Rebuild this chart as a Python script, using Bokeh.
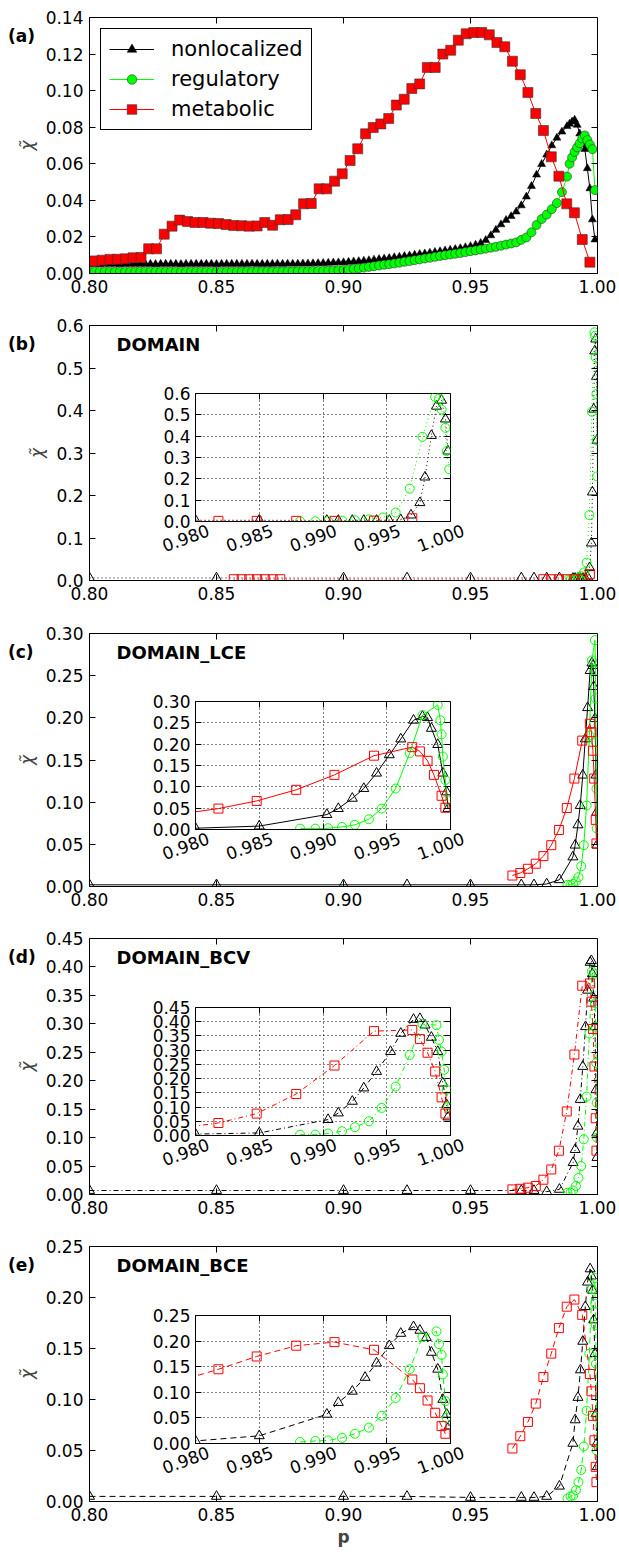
import numpy as np
from bokeh.plotting import figure
from bokeh.models import (LinearAxis, FixedTicker, PrintfTickFormatter, Label, Range1d,
                          Legend, LegendItem, Div, CustomJSTickFormatter)
from bokeh.layouts import column
from bokeh.embed import file_html
from bokeh.resources import INLINE

FONT = "DejaVu Sans"
RED = "#ff0000"
GREEN = "#00ff00"
CHI = "\u03c7\u0303"

# ---------------- data: panel (a) ----------------
a_dense_x = [
    0.800, 0.802, 0.804, 0.806, 0.808, 0.810, 0.812, 0.814, 0.816, 0.818,
    0.820, 0.822, 0.824, 0.826, 0.828, 0.830, 0.832, 0.834, 0.836, 0.838,
    0.840, 0.842, 0.844, 0.846, 0.848, 0.850, 0.852, 0.854, 0.856, 0.858,
    0.860, 0.862, 0.864, 0.866, 0.868, 0.870, 0.872, 0.874, 0.876, 0.878,
    0.880, 0.882, 0.884, 0.886, 0.888, 0.890, 0.892, 0.894, 0.896, 0.898,
    0.900, 0.902, 0.904, 0.906, 0.908, 0.910, 0.912, 0.914, 0.916, 0.918,
    0.920, 0.922, 0.924, 0.926, 0.928, 0.930, 0.932, 0.934, 0.936, 0.938,
    0.940, 0.942, 0.944, 0.946, 0.948, 0.950, 0.952, 0.954, 0.956, 0.958,
    0.960, 0.962, 0.964, 0.966, 0.968, 0.970, 0.972, 0.974, 0.976, 0.978,
    0.980, 0.982, 0.984, 0.986, 0.988,
    0.989, 0.990, 0.991, 0.992, 0.993, 0.994, 0.995, 0.996, 0.997, 0.998, 0.999]
a_nonlocalized = [
    0.0052, 0.0052, 0.0051, 0.0052, 0.0052, 0.0052, 0.0051, 0.0052, 0.0052, 0.0052,
    0.0052, 0.0052, 0.0052, 0.0051, 0.0052, 0.0052, 0.0052, 0.0052, 0.0051, 0.0052,
    0.0052, 0.0052, 0.0052, 0.0052, 0.0052, 0.0051, 0.0052, 0.0052, 0.0052, 0.0052,
    0.0052, 0.0052, 0.0053, 0.0052, 0.0052, 0.0052, 0.0052, 0.0053, 0.0052, 0.0053,
    0.0053, 0.0053, 0.0054, 0.0054, 0.0055, 0.0056, 0.0057, 0.0058, 0.0059, 0.0060,
    0.0061, 0.0063, 0.0065, 0.0067, 0.0069, 0.0072, 0.0075, 0.0078, 0.0081, 0.0084,
    0.0088, 0.0091, 0.0095, 0.0098, 0.0102, 0.0106, 0.0109, 0.0113, 0.0117, 0.0121,
    0.0125, 0.0129, 0.0133, 0.0138, 0.0143, 0.0149, 0.0156, 0.0166, 0.0182, 0.0208,
    0.0238, 0.0268, 0.0292, 0.0313, 0.0338, 0.0372, 0.0420, 0.0478, 0.0540, 0.0598,
    0.0650, 0.0700, 0.0742, 0.0775, 0.0805,
    0.0818, 0.0830, 0.0840, 0.0812, 0.0765, 0.0712, 0.0680, 0.0575, 0.0465, 0.0295, 0.0185]
a_regulatory = [
    0.0010, 0.0010, 0.0010, 0.0010, 0.0010, 0.0010, 0.0010, 0.0010, 0.0010, 0.0010,
    0.0010, 0.0010, 0.0010, 0.0010, 0.0010, 0.0010, 0.0010, 0.0010, 0.0010, 0.0010,
    0.0010, 0.0010, 0.0010, 0.0010, 0.0010, 0.0010, 0.0010, 0.0010, 0.0010, 0.0010,
    0.0011, 0.0011, 0.0011, 0.0011, 0.0011, 0.0011, 0.0011, 0.0011, 0.0011, 0.0011,
    0.0012, 0.0012, 0.0013, 0.0013, 0.0014, 0.0014, 0.0015, 0.0016, 0.0017, 0.0018,
    0.0019, 0.0022, 0.0025, 0.0028, 0.0032, 0.0036, 0.0040, 0.0044, 0.0048, 0.0051,
    0.0055, 0.0059, 0.0064, 0.0068, 0.0073, 0.0077, 0.0082, 0.0086, 0.0091, 0.0096,
    0.0100, 0.0104, 0.0108, 0.0112, 0.0117, 0.0122, 0.0126, 0.0131, 0.0136, 0.0141,
    0.0146, 0.0152, 0.0158, 0.0164, 0.0170, 0.0184, 0.0197, 0.0225, 0.0265, 0.0298,
    0.0322, 0.0352, 0.0385, 0.0445, 0.0530,
    0.0600, 0.0635, 0.0665, 0.0690, 0.0712, 0.0738, 0.0755, 0.0730, 0.0705, 0.0680, 0.0456]
a_metabolic_x = [
    0.8020, 0.8050, 0.8081, 0.8111, 0.8142, 0.8172, 0.8203, 0.8233, 0.8264, 0.8294,
    0.8325, 0.8355, 0.8386, 0.8416, 0.8447, 0.8477, 0.8508, 0.8538, 0.8568, 0.8599,
    0.8629, 0.8660, 0.8690, 0.8721, 0.8751, 0.8782, 0.8812, 0.8843, 0.8873, 0.8904,
    0.8934, 0.8965, 0.8995, 0.9026, 0.9056, 0.9087, 0.9117, 0.9147, 0.9178, 0.9208,
    0.9239, 0.9269, 0.9300, 0.9330, 0.9361, 0.9391, 0.9422, 0.9452, 0.9483, 0.9513,
    0.9544, 0.9574, 0.9604, 0.9635, 0.9665, 0.9696, 0.9726, 0.9757, 0.9787, 0.9818,
    0.9848, 0.9879, 0.9909, 0.9940, 0.9970]
a_metabolic = [
    0.0069, 0.0073, 0.0077, 0.0078, 0.0080, 0.0086, 0.0087, 0.0135, 0.0135, 0.0215,
    0.0259, 0.0292, 0.0284, 0.0279, 0.0279, 0.0275, 0.0273, 0.0268, 0.0262, 0.0261,
    0.0259, 0.0260, 0.0279, 0.0264, 0.0294, 0.0295, 0.0321, 0.0381, 0.0383, 0.0463,
    0.0463, 0.0505, 0.0545, 0.0618, 0.0682, 0.0764, 0.0798, 0.0818, 0.0848, 0.0921,
    0.0953, 0.1012, 0.1037, 0.1127, 0.1127, 0.1200, 0.1221, 0.1276, 0.1311, 0.1318,
    0.1318, 0.1305, 0.1263, 0.1240, 0.1161, 0.1087, 0.0990, 0.0875, 0.0782, 0.0638,
    0.0532, 0.0381, 0.0332, 0.0186, 0.0062]

# ---------------- data: panels (b)-(e) ----------------
b_nonloc_x = [0.800, 0.850, 0.900, 0.925, 0.950, 0.970, 0.975, 0.980, 0.985, 0.9903, 0.9912, 0.9923,
              0.9932, 0.9942, 0.9952, 0.9961, 0.9969, 0.9976, 0.9980, 0.9985, 0.9989, 0.9993, 0.9996, 0.9998]
b_nonloc = [0.006, 0.006, 0.006, 0.006, 0.006, 0.006, 0.006, 0.006, 0.006, 0.005, 0.005, 0.005,
            0.005, 0.005, 0.005, 0.008, 0.030, 0.088, 0.208, 0.403, 0.540, 0.568, 0.480, 0.330]
b_metab_x = [0.8568, 0.8599, 0.8629, 0.8660, 0.8690, 0.8721, 0.8751, 0.9787, 0.9818, 0.9848,
             0.9879, 0.9909, 0.9940, 0.9970]
b_metab = [0.003, 0.003, 0.003, 0.003, 0.003, 0.003, 0.003, 0.003, 0.003, 0.003,
           0.003, 0.003, 0.004, 0.015]
b_reg_x = [0.9882, 0.9894, 0.9904, 0.9915, 0.9925, 0.9936, 0.9947, 0.9957, 0.9968, 0.9978,
           0.9988, 0.9991, 0.9993, 0.9996, 0.9997, 0.9999]
b_reg = [0.001, 0.001, 0.002, 0.004, 0.006, 0.010, 0.019, 0.042, 0.154, 0.397,
         0.584, 0.576, 0.525, 0.439, 0.330, 0.245]

c_nonloc_x = [0.800, 0.850, 0.900, 0.925, 0.950, 0.970, 0.975, 0.980, 0.985, 0.9903, 0.9912, 0.9923,
              0.9932, 0.9942, 0.9952, 0.9961, 0.9971, 0.9978, 0.9982, 0.9985, 0.9990, 0.9994, 0.9997, 0.9998]
c_nonloc = [0.002, 0.002, 0.002, 0.002, 0.002, 0.002, 0.002, 0.003, 0.008, 0.035, 0.049, 0.073,
            0.096, 0.132, 0.175, 0.212, 0.256, 0.265, 0.262, 0.237, 0.199, 0.132, 0.088, 0.049]
c_metab_x = [0.9665, 0.9696, 0.9726, 0.9757, 0.9787, 0.9818, 0.9848, 0.9879, 0.9909, 0.9940,
             0.9970, 0.9976, 0.9982, 0.9987, 0.9993, 0.9996]
c_metab = [0.013, 0.016, 0.021, 0.027, 0.036, 0.049, 0.067, 0.093, 0.128, 0.173,
           0.193, 0.183, 0.161, 0.128, 0.079, 0.051]
c_reg_x = [0.9882, 0.9894, 0.9904, 0.9915, 0.9925, 0.9936, 0.9946, 0.9957, 0.9968, 0.9978,
           0.9990, 0.9992, 0.9993, 0.9994, 0.9996, 0.9997]
c_reg = [0.002, 0.002, 0.003, 0.006, 0.011, 0.024, 0.049, 0.096, 0.179, 0.268,
         0.292, 0.256, 0.223, 0.171, 0.116, 0.069]

d_nonloc_x = [0.800, 0.850, 0.900, 0.925, 0.950, 0.970, 0.975, 0.980, 0.985, 0.9904, 0.9912, 0.9923,
              0.9932, 0.9942, 0.9953, 0.9961, 0.9971, 0.9976, 0.9980, 0.9985, 0.9990, 0.9994, 0.9997, 0.9998]
d_nonloc = [0.007, 0.007, 0.007, 0.007, 0.007, 0.007, 0.007, 0.005, 0.009, 0.056, 0.079, 0.120,
            0.167, 0.225, 0.295, 0.359, 0.408, 0.411, 0.388, 0.345, 0.295, 0.184, 0.108, 0.065]
d_metab_x = [0.9665, 0.9696, 0.9726, 0.9757, 0.9787, 0.9818, 0.9848, 0.9879, 0.9909, 0.9940,
             0.9970, 0.9976, 0.9982, 0.9988, 0.9993, 0.9996]
d_metab = [0.009, 0.010, 0.012, 0.015, 0.026, 0.044, 0.077, 0.146, 0.246, 0.367,
           0.371, 0.339, 0.291, 0.225, 0.134, 0.077]
d_reg_x = [0.9882, 0.9894, 0.9904, 0.9915, 0.9925, 0.9936, 0.9946, 0.9957, 0.9968, 0.9978,
           0.9989, 0.9991, 0.9993, 0.9995, 0.9997, 0.9998]
d_reg = [0.003, 0.003, 0.007, 0.015, 0.029, 0.050, 0.097, 0.172, 0.283, 0.392,
         0.388, 0.336, 0.295, 0.231, 0.161, 0.100]

e_nonloc_x = [0.800, 0.850, 0.900, 0.925, 0.950, 0.970, 0.975, 0.980, 0.985, 0.9903, 0.9912, 0.9923,
              0.9933, 0.9942, 0.9952, 0.9961, 0.9971, 0.9976, 0.9981, 0.9985, 0.9990, 0.9994, 0.9997, 0.9999]
e_nonloc = [0.005, 0.005, 0.005, 0.005, 0.004, 0.004, 0.004, 0.005, 0.015, 0.057, 0.080, 0.102,
            0.129, 0.157, 0.191, 0.215, 0.228, 0.221, 0.207, 0.178, 0.145, 0.086, 0.057, 0.034]
e_metab_x = [0.9665, 0.9696, 0.9726, 0.9757, 0.9787, 0.9818, 0.9848, 0.9879, 0.9909, 0.9940,
             0.9970, 0.9976, 0.9982, 0.9988, 0.9993, 0.9996]
e_metab = [0.052, 0.064, 0.078, 0.096, 0.122, 0.145, 0.170, 0.191, 0.198, 0.183,
           0.125, 0.108, 0.084, 0.060, 0.034, 0.019]
e_reg_x = [0.9882, 0.9894, 0.9904, 0.9915, 0.9925, 0.9936, 0.9946, 0.9957, 0.9968, 0.9978,
           0.9989, 0.9991, 0.9993, 0.9994, 0.9996, 0.9997]
e_reg = [0.003, 0.005, 0.006, 0.011, 0.019, 0.031, 0.054, 0.089, 0.145, 0.208,
         0.219, 0.194, 0.173, 0.135, 0.083, 0.050]

# ---------------- ticks / labels ----------------
main_xticks = [0.80, 0.85, 0.90, 0.95, 1.00]
inset_xticks = [0.980, 0.985, 0.990, 0.995, 1.000]
a_yticks = [0.00, 0.02, 0.04, 0.06, 0.08, 0.10, 0.12, 0.14]
b_yticks = [0.0, 0.1, 0.2, 0.3, 0.4, 0.5, 0.6]
c_yticks = [0.00, 0.05, 0.10, 0.15, 0.20, 0.25, 0.30]
d_yticks = [0.00, 0.05, 0.10, 0.15, 0.20, 0.25, 0.30, 0.35, 0.40, 0.45]
e_yticks = [0.00, 0.05, 0.10, 0.15, 0.20, 0.25]

panel_tags = ["(a)", "(b)", "(c)", "(d)", "(e)"]
panel_names = [None, "DOMAIN", "DOMAIN_LCE", "DOMAIN_BCV", "DOMAIN_BCE"]
series_names = ["nonlocalized", "regulatory", "metabolic"]

MAIN_LEFT, MAIN_RIGHT, MAIN_TOP, MAIN_FRAME_W = 89, 22, 17, 508


def style_axis(ax, fs="17px"):
    ax.major_label_text_font = FONT
    ax.major_label_text_font_size = fs
    ax.major_label_text_color = "black"
    ax.major_tick_in = 6
    ax.major_tick_out = 0
    ax.minor_tick_line_color = None
    ax.axis_line_color = "black"
    ax.major_tick_line_color = "black"
    ax.major_label_standoff = 7


def hide_labels(ax):
    ax.formatter = CustomJSTickFormatter(code="return ''")
    ax.major_label_text_color = None
    ax.major_label_text_font_size = "1px"
    ax.major_label_standoff = 0


def mirror_axes(p, xticks, yticks, xend, yend):
    # tick marks only on the top and right frame edges
    for side, ticks, loc in (("below", xticks, yend), ("left", yticks, xend)):
        ax = LinearAxis(ticker=FixedTicker(ticks=ticks), fixed_location=loc)
        hide_labels(ax)
        ax.major_tick_in = 0
        ax.major_tick_out = 6
        ax.minor_tick_line_color = None
        ax.axis_line_color = None
        ax.major_tick_line_color = "black"
        p.add_layout(ax, side)


def make_main(height, frame_h, ymax, yticks, yfmt, name, xlabel=None):
    bottom = height - MAIN_TOP - frame_h
    p = figure(frame_width=MAIN_FRAME_W, frame_height=frame_h,
               x_range=Range1d(0.8, 1.0), y_range=Range1d(0, ymax),
               output_backend="svg", toolbar_location=None,
               min_border_left=MAIN_LEFT, min_border_right=MAIN_RIGHT,
               min_border_top=MAIN_TOP, min_border_bottom=bottom)
    p.xgrid.visible = False
    p.ygrid.visible = False
    p.outline_line_color = "black"
    p.outline_line_width = 1
    p.outline_line_alpha = 1
    xa = p.below[0]
    ya = p.left[0]
    xa.ticker = FixedTicker(ticks=main_xticks)
    xa.formatter = PrintfTickFormatter(format="%.2f")
    ya.ticker = FixedTicker(ticks=yticks)
    ya.formatter = PrintfTickFormatter(format=yfmt)
    style_axis(xa)
    style_axis(ya)
    xa.major_label_standoff = 6
    ya.major_label_standoff = 6
    ya.axis_label = CHI
    ya.axis_label_text_font = FONT
    ya.axis_label_text_font_size = "17px"
    ya.axis_label_text_font_style = "italic"
    ya.axis_label_standoff = 6
    if xlabel:
        xa.axis_label = xlabel
        xa.axis_label_text_font = FONT
        xa.axis_label_text_font_size = "17px"
        xa.axis_label_text_font_style = "bold"
        xa.axis_label_standoff = 3
    mirror_axes(p, main_xticks, yticks, 1.0, ymax)
    if name:
        p.add_layout(Label(x=27, y=frame_h - 19, x_units="screen", y_units="screen", text=name,
                           text_font=FONT, text_font_size="18px", text_font_style="bold",
                           text_baseline="middle", text_color="black"))
    return p


INSET_LEFT_PAGE = 190          # page x of the inset frame's left edge
LAYOUT_DRIFT = 24              # extra left offset Bokeh adds to these overlay figures
INSET_TOP, INSET_FRAME_W, INSET_FRAME_H, INSET_BOTTOM = 12, 255, 128, 45
INSET_BL, INSET_BR = 60, 40
INSET_H = INSET_TOP + INSET_FRAME_H + INSET_BOTTOM
LAB_SHIFT = 23                 # rotated tick labels are centred on their ticks
LAB_BL, LAB_BR, LAB_FRAME_H, LAB_BOTTOM = 70, 45, 10, 50
LAB_H = LAB_FRAME_H + LAB_BOTTOM


def make_inset(ymax, yticks, yfmt):
    q = figure(frame_width=INSET_FRAME_W, frame_height=INSET_FRAME_H,
               x_range=Range1d(0.98, 1.0), y_range=Range1d(0, ymax),
               output_backend="svg", toolbar_location=None,
               min_border_left=INSET_BL, min_border_right=INSET_BR, min_border_top=INSET_TOP,
               min_border_bottom=INSET_BOTTOM,
               border_fill_color=None, background_fill_color="white")
    q.outline_line_color = "black"
    q.outline_line_width = 1
    q.outline_line_alpha = 1
    xa = q.below[0]
    ya = q.left[0]
    xa.ticker = FixedTicker(ticks=inset_xticks)
    ya.ticker = FixedTicker(ticks=yticks)
    ya.formatter = PrintfTickFormatter(format=yfmt)
    style_axis(xa)
    style_axis(ya)
    hide_labels(xa)
    ya.major_label_standoff = 5
    for g in (q.xgrid[0], q.ygrid[0]):
        g.grid_line_color = "black"
        g.grid_line_dash = "1 3"
        g.grid_line_width = 1
        g.grid_line_alpha = 1
    q.xgrid.ticker = FixedTicker(ticks=inset_xticks)
    q.ygrid.ticker = FixedTicker(ticks=yticks)
    mirror_axes(q, inset_xticks, yticks, 1.0, ymax)
    return q


def make_inset_labels():
    # transparent overlay carrying the inset's rotated x tick labels
    L = figure(frame_width=INSET_FRAME_W, frame_height=LAB_FRAME_H,
               x_range=Range1d(0.98, 1.0), y_range=Range1d(0, 1),
               output_backend="svg", toolbar_location=None, y_axis_location=None,
               min_border_left=LAB_BL, min_border_right=LAB_BR, min_border_top=0,
               min_border_bottom=LAB_BOTTOM,
               border_fill_color=None, background_fill_color=None)
    L.outline_line_color = None
    L.xgrid.visible = False
    L.ygrid.visible = False
    xa = L.below[0]
    xa.ticker = FixedTicker(ticks=inset_xticks)
    xa.formatter = PrintfTickFormatter(format="%.3f")
    style_axis(xa)
    xa.major_tick_line_color = None
    xa.axis_line_color = None
    xa.major_label_orientation = 0.35
    xa.major_label_standoff = 8
    return L


def tag_div(text, top_page, flow_end):
    # bold panel tag positioned over the left margin of its panel
    h = 24
    mt = top_page - flow_end
    return Div(text=('<span style="font-family: \'DejaVu Sans\'; font-size: 17px; '
                     'font-weight: bold; color: black; line-height: 24px; white-space: nowrap;">'
                     + text + '</span>'),
               width=40, height=h, margin=(mt, 0, -h - mt, 8))


def draw_series(p, xs, ys, color, marker, size, dash):
    p.line(xs, ys, line_color=color, line_width=1, line_dash=dash)
    p.scatter(xs, ys, marker=marker, size=size, fill_color=None, line_color=color, line_width=1)


# ---------------- panel (a) ----------------
pa = make_main(308, 256, 0.14, a_yticks, "%.2f", None)
lb = pa.line(a_dense_x, a_nonlocalized, line_color="black", line_width=1)
sb = pa.scatter(a_dense_x, a_nonlocalized, marker="triangle", size=8, fill_color="black",
                line_color="black", line_width=0.5)
lg = pa.line(a_dense_x, a_regulatory, line_color=GREEN, line_width=1)
sg = pa.scatter(a_dense_x, a_regulatory, marker="circle", size=9, fill_color=GREEN,
                line_color="#333333", line_width=0.6)
lr = pa.line(a_metabolic_x, a_metabolic, line_color=RED, line_width=1)
sr = pa.scatter(a_metabolic_x, a_metabolic, marker="square", size=10, fill_color=RED,
                line_color="#333333", line_width=0.6)
legend = Legend(items=[LegendItem(label=series_names[0], renderers=[lb, sb]),
                       LegendItem(label=series_names[1], renderers=[lg, sg]),
                       LegendItem(label=series_names[2], renderers=[lr, sr])],
                location="top_left")
legend.margin = 11
legend.padding = 8
legend.spacing = 6
legend.label_text_font = FONT
legend.label_text_font_size = "21px"
legend.label_text_color = "black"
legend.label_height = 24
legend.glyph_height = 24
legend.glyph_width = 45
legend.label_standoff = 17
legend.border_line_color = "black"
legend.border_line_width = 1
legend.border_line_alpha = 1
legend.background_fill_alpha = 1
pa.add_layout(legend)

children = [pa, tag_div(panel_tags[0], 0 + MAIN_TOP + 7, 308)]

# ---------------- panels (b)-(e) ----------------
specs = [
    (308, 255, 0.6, b_yticks, "%.1f", "%.1f", "1 3", 85,
     (b_nonloc_x, b_nonloc), (b_reg_x, b_reg), (b_metab_x, b_metab)),
    (305, 253, 0.3, c_yticks, "%.2f", "%.2f", "solid", 85,
     (c_nonloc_x, c_nonloc), (c_reg_x, c_reg), (c_metab_x, c_metab)),
    (308, 256, 0.45, d_yticks, "%.2f", "%.2f", "5 3 1 3", 86,
     (d_nonloc_x, d_nonloc), (d_reg_x, d_reg), (d_metab_x, d_metab)),
    (323, 255, 0.25, e_yticks, "%.2f", "%.2f", "6 4", 86,
     (e_nonloc_x, e_nonloc), (e_reg_x, e_reg), (e_metab_x, e_metab)),
]

start = 308
for i, (h, fh, ymax, yt, fm, fi, dash, off, nl, rg, mt) in enumerate(specs):
    p = make_main(h, fh, ymax, yt, fm, panel_names[i + 1], xlabel="p" if i == 3 else None)
    q = make_inset(ymax, yt, fi)
    for fig in (p, q):
        draw_series(fig, nl[0], nl[1], "black", "triangle", 10, dash)
        draw_series(fig, rg[0], rg[1], GREEN, "circle", 9, dash)
        draw_series(fig, mt[0], mt[1], RED, "square", 9, dash)
    end = start + h
    frame_top = start + off
    q_top = frame_top - INSET_TOP
    q.margin = (q_top - end, 0, end - (q_top + INSET_H),
                INSET_LEFT_PAGE - INSET_BL - LAYOUT_DRIFT)
    lab = make_inset_labels()
    lab_top = frame_top + INSET_FRAME_H - LAB_FRAME_H
    lab.margin = (lab_top - end, 0, end - (lab_top + LAB_H),
                  INSET_LEFT_PAGE + LAB_SHIFT - LAB_BL - LAYOUT_DRIFT)
    children.extend([p, q, lab, tag_div(panel_tags[i + 1], start + MAIN_TOP + 7, end)])
    start = end

layout = column(*children, spacing=0)
open("out.html", "w").write(file_html(layout, INLINE))
